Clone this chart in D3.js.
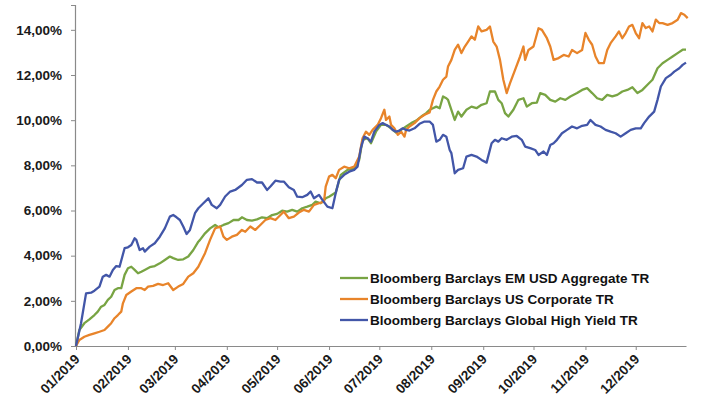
<!DOCTYPE html>
<html>
<head>
<meta charset="utf-8">
<script src="https://cdn.jsdelivr.net/npm/d3@7"></script>
<style>
  html, body { margin: 0; padding: 0; background: #fff; }
  svg { display: block; font-family: Arial, "Liberation Sans", sans-serif; }
</style>
</head>
<body>
<svg id="chart" width="703" height="407"></svg>
<script>
// ---- data (day offsets from 1 Jan 2019, cumulative total return in %) ----
const seriesNames = [
  "Bloomberg Barclays EM USD Aggregate TR",
  "Bloomberg Barclays US Corporate TR",
  "Bloomberg Barclays Global High Yield TR"
];
const seriesColors = ["#78a443", "#e8842a", "#4256a8"];

const emDays = [0,2,5,8,11,13,15,17,19,21,23,25,27,29,31,33,35,37,39,41,44,47,50,53,56,58,61,64,67,70,73,74,77,80,83,85,88,91,94,97,99,102,105,108,111,114,117,120,123,126,129,132,135,138,141,143,146,149,151,155,158,162,166,169,171,174,176,179,182,185,188,191,194,197,200,203,206,209,211,213,215,217,219,221,222,224,226,228,230,233,236,239,242,245,247,250,252,254,256,258,261,264,267,269,272,275,277,280,283,286,289,292,295,299,302,305,308,311,314,317,320,323,326,329,332,335,338,341,344,347,350,353,356,359,362,364];
const emValues = [0,0.71,1.01,1.18,1.37,1.52,1.74,1.82,2.04,2.18,2.48,2.56,2.56,3.15,3.44,3.51,3.37,3.22,3.29,3.37,3.49,3.54,3.66,3.81,3.96,3.89,3.81,3.84,3.96,4.25,4.62,4.70,4.99,5.21,5.36,5.26,5.36,5.44,5.58,5.58,5.70,5.58,5.55,5.61,5.70,5.66,5.80,5.85,5.99,5.95,6.03,5.95,6.10,6.17,6.25,6.39,6.32,6.54,6.61,6.80,7.58,7.80,7.87,8.24,9.13,9.20,8.98,9.49,9.79,9.79,9.64,9.45,9.57,9.72,9.87,9.98,10.16,10.31,10.46,10.53,10.60,10.53,11.05,10.97,10.90,10.46,10.01,10.38,10.16,10.46,10.60,10.53,10.68,10.75,11.27,11.27,10.90,10.75,10.31,10.16,10.46,10.90,10.97,10.60,10.75,10.78,11.20,11.12,10.90,10.82,10.97,10.90,11.05,11.20,11.34,11.42,11.20,10.97,10.90,11.12,11.05,11.12,11.27,11.34,11.46,11.20,11.34,11.57,11.79,12.30,12.52,12.67,12.82,12.97,13.12,13.12];

const usDays = [0,2,5,8,11,14,17,19,21,23,25,27,28,30,33,36,39,41,43,46,49,52,55,58,61,64,67,70,73,77,80,83,86,88,90,93,96,99,101,104,107,110,113,116,119,122,124,127,130,133,136,139,142,145,148,149,151,153,155,157,160,163,166,169,171,173,175,177,180,182,184,185,187,188,190,192,194,196,197,199,202,205,208,211,213,215,217,219,221,222,224,226,228,230,232,234,236,238,240,242,245,247,249,251,253,255,257,259,262,265,267,268,270,273,276,278,281,283,285,288,291,294,296,299,302,304,306,308,310,312,315,317,319,322,324,326,328,330,332,334,336,338,340,342,344,346,348,350,353,356,359,361,363,365];
const usValues = [0,0.27,0.41,0.49,0.56,0.63,0.71,0.86,1.01,1.23,1.37,1.52,1.89,2.26,2.41,2.56,2.56,2.48,2.63,2.66,2.75,2.70,2.78,2.48,2.63,2.75,3.07,3.22,3.51,4.11,4.70,5.21,5.29,4.84,4.70,4.84,4.92,5.14,5.06,5.29,5.14,5.36,5.58,5.66,5.58,5.80,5.95,5.66,5.73,5.91,6.03,5.95,6.25,6.32,6.39,7.06,7.50,7.58,7.43,7.80,7.94,7.87,7.94,8.39,9.20,9.49,9.35,9.57,9.79,10.09,10.46,10.01,10.16,9.79,9.64,9.35,9.49,9.27,9.57,9.72,9.87,10.09,10.24,10.34,10.90,11.27,11.49,11.79,11.93,12.38,12.67,13.11,13.34,12.97,13.26,13.48,13.71,13.56,14.15,13.93,14.00,14.15,13.48,13.26,12.67,11.79,11.20,11.64,12.23,12.82,13.26,12.67,13.11,13.26,14.07,14.00,13.63,13.26,12.67,12.75,12.89,12.82,13.11,12.97,13.11,13.86,13.56,13.34,12.82,12.53,12.53,13.11,13.41,13.71,13.93,13.63,13.86,14.15,14.22,13.86,13.63,14.30,14.08,14.15,13.93,14.45,14.30,14.30,14.22,14.30,14.45,14.74,14.67,14.52];

const hyDays = [0,3,6,9,11,14,16,18,20,22,24,26,29,31,33,35,36,38,40,41,44,47,50,53,56,58,60,62,64,66,68,71,73,76,79,81,84,86,89,92,95,99,102,105,108,111,114,116,119,122,124,127,130,132,135,138,140,142,145,147,150,153,155,157,160,163,166,168,170,172,174,176,178,181,183,185,187,189,191,193,195,197,199,202,205,208,211,213,215,217,219,221,223,224,226,228,231,233,236,239,242,245,248,250,252,254,257,260,263,266,268,271,274,276,279,281,283,285,287,290,293,296,299,302,305,307,310,313,316,319,322,325,328,331,334,337,339,342,345,347,349,352,355,357,360,362,364];
const hyValues = [0,1.01,2.33,2.36,2.45,2.63,3.07,3.15,3.07,3.37,3.54,3.51,4.33,4.37,4.47,4.77,4.70,4.25,4.33,4.18,4.40,4.55,4.84,5.21,5.73,5.80,5.70,5.58,5.29,4.96,5.14,5.88,6.10,6.32,6.54,6.25,6.10,6.25,6.62,6.84,6.91,7.13,7.36,7.39,7.24,7.24,6.91,7.06,7.32,7.28,7.28,7.03,6.91,6.61,6.59,6.69,6.84,6.54,6.69,6.47,6.17,6.10,6.77,7.36,7.58,7.72,7.80,7.94,8.76,9.27,9.20,9.05,9.49,9.79,9.87,9.79,9.72,9.57,9.49,9.54,9.64,9.57,9.54,9.64,9.84,9.94,9.94,9.79,9.05,9.13,9.35,9.27,8.68,8.54,7.65,7.80,7.87,8.39,8.46,8.39,8.24,8.12,8.98,9.13,9.05,9.20,9.13,9.27,9.30,9.13,8.83,8.76,8.68,8.46,8.61,8.46,8.90,8.98,9.13,9.42,9.57,9.72,9.64,9.75,9.79,10.01,9.79,9.72,9.57,9.49,9.42,9.27,9.42,9.57,9.64,9.64,9.87,10.16,10.38,10.90,11.49,11.86,12.01,12.15,12.30,12.45,12.55];

const xTickLabels = ["01/2019","02/2019","03/2019","04/2019","05/2019","06/2019","07/2019","08/2019","09/2019","10/2019","11/2019","12/2019"];
const yTicks = [0,2,4,6,8,10,12,14];

// ---- build ----
const svg = d3.select("#chart");
const start = new Date(2019, 0, 1);
const toDate = d => new Date(2019, 0, 1 + d);

const x = d3.scaleTime().domain([start, new Date(2019, 11, 31)]).range([76, 686]);
const y = d3.scaleLinear().domain([0, 15.1]).range([346, 5]);

const axisColor = "#8a8a8a";
const fontSize = 13.5;

// Y axis
const yAxis = d3.axisLeft(y)
  .tickValues(yTicks)
  .tickSize(4)
  .tickPadding(9)
  .tickFormat(v => d3.format(".2f")(v).replace(".", ",") + "%");
const gy = svg.append("g").attr("transform", "translate(75,0)").call(yAxis);
gy.select(".domain").attr("stroke", axisColor).attr("stroke-width", 1.2);
gy.selectAll(".tick line").attr("stroke", axisColor);
gy.selectAll(".tick text")
  .attr("font-size", fontSize)
  .attr("font-weight", "bold")
  .attr("fill", "#1a1a1a")
  .attr("font-family", "Arial, 'Liberation Sans', sans-serif");

// X axis
const months = d3.range(12).map(m => new Date(2019, m, 1));
const xAxis = d3.axisBottom(x)
  .tickValues(months)
  .tickSize(4)
  .tickSizeOuter(0)
  .tickFormat((d, i) => xTickLabels[i]);
const gx = svg.append("g").attr("transform", "translate(0,346)").call(xAxis);
gx.select(".domain").attr("stroke", axisColor).attr("stroke-width", 1.2);
gx.selectAll(".tick line").attr("stroke", axisColor);
gx.selectAll(".tick text")
  .attr("font-size", fontSize)
  .attr("font-weight", "bold")
  .attr("fill", "#1a1a1a")
  .attr("font-family", "Arial, 'Liberation Sans', sans-serif")
  .attr("text-anchor", "end")
  .attr("dy", null)
  .attr("y", 0)
  .attr("transform", "translate(4,14) rotate(-45)");

// Lines
const allSeries = [
  { days: emDays, values: emValues },
  { days: usDays, values: usValues },
  { days: hyDays, values: hyValues }
];
const line = d3.line()
  .x(p => x(toDate(p[0])))
  .y(p => y(p[1]))
  .curve(d3.curveLinear);

allSeries.forEach((s, i) => {
  const pts = s.days.map((d, k) => [d, s.values[k]]);
  svg.append("path")
    .datum(pts)
    .attr("fill", "none")
    .attr("stroke", seriesColors[i])
    .attr("stroke-width", 2.3)
    .attr("stroke-linejoin", "round")
    .attr("d", line);
});

// Legend
const legendY = [278, 299, 320];
const lg = svg.append("g");
seriesNames.forEach((name, i) => {
  lg.append("line")
    .attr("x1", 340).attr("x2", 368)
    .attr("y1", legendY[i]).attr("y2", legendY[i])
    .attr("stroke", seriesColors[i]).attr("stroke-width", 2.3);
  lg.append("text")
    .attr("x", 370).attr("y", legendY[i] + 4.8)
    .attr("font-size", fontSize)
    .attr("font-weight", "bold")
    .attr("fill", "#111")
    .text(name);
});
</script>
</body>
</html>
